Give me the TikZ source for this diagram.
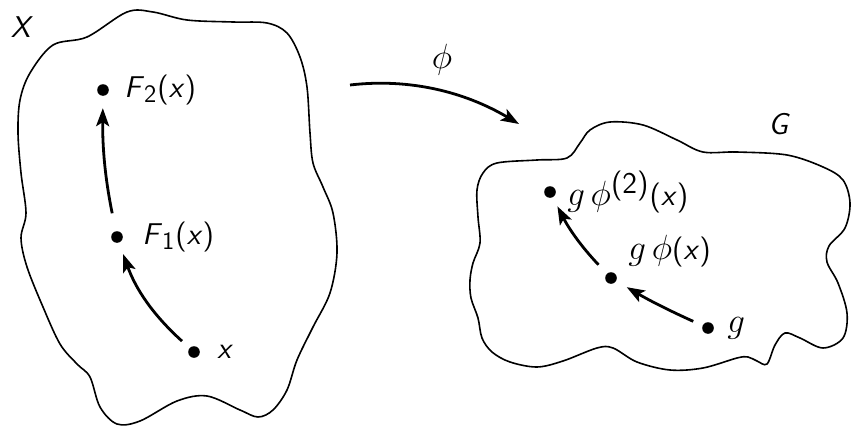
\RequirePackage{fix-cm}
\documentclass[tikz,border=0pt]{standalone}
\usepackage{tikz}
\usetikzlibrary{arrows.meta,positioning}
\DeclareMathSizes{15}{17.5}{12.5}{9}

\begin{document}
\begin{tikzpicture}[x=0.5pt,y=-0.5pt,
  every node/.style={font=\fontsize{15}{18}\selectfont\sffamily},
  pt/.style={circle,fill=black,inner sep=0pt,minimum size=5.8pt},
  arr/.style={line width=1.4pt,-{Stealth[length=9pt,width=6.5pt,inset=2pt]},shorten <=5pt,shorten >=6pt},
  blob/.style={line width=0.8pt}]
\useasboundingbox (0,0) rectangle (852,428);

% space X
\draw[blob] plot[smooth cycle,tension=0.55] coordinates {
  (53,45) (87,37) (127,12) (153,12) (187,20) (233,22) (267,23) (287,33)
  (300,57) (307,87) (310,133) (313,163) (323,187) (333,213) (337,253)
  (330,293) (313,327) (297,360) (287,390) (273,410) (258,417) (240,410)
  (207,396) (177,401) (140,421) (117,424) (100,407) (90,377) (77,364)
  (60,344) (43,307) (27,267) (21,238) (26,213)
  (21,173) (18,133) (20,100) (30,73)};
\node (Xl) at (22,27) {\textit{X}};

\node[pt] (x) at (194,352) {};
\node[pt] (f1) at (117,237) {};
\node[pt] (f2) at (103,90) {};
\node[right=5pt of x] (xl) {\textit{x}};
\node[right=6pt of f1] (f1l) {\textit{F}\textsubscript{1}(\textit{x})};
\node[right=4pt of f2] (f2l) {\textit{F}\textsubscript{2}(\textit{x})};
\draw[arr] (x) to[bend left=14] (f1);
\draw[arr,shorten <=9pt] (f1) to[bend left=6] (f2);

% map phi
\coordinate (phis) at (350,85);
\coordinate (phie) at (519,124);
\draw[arr,shorten <=0pt,shorten >=0pt] (phis) .. controls (410,78) and (465,92) .. (phie);
\node (phil) at (442,60) {$\phi$};

% group G
\draw[blob] plot[smooth cycle,tension=0.55] coordinates {
  (477,190) (483,173) (497,163) (537,160) (567,158) (580,143) (590,130)
  (610,122) (643,125) (677,140) (703,152) (737,152) (787,155) (823,167)
  (843,180) (850,203) (845,228) (829,246) (827,262) (838,283)
  (847,313) (843,338) (823,348) (800,338) (785,333) (775,345) (767,364)
  (757,361) (748,357) (737,358) (703,368) (670,370) (637,362) (613,348)
  (597,348) (563,361) (537,367) (510,362) (492,352) (482,338) (478,318)
  (471,298) (470,280) (473,263) (480,243) (478,217)};
\node (Gl) at (779,124) {\textit{G}};

\node[pt] (g) at (708,328) {};
\node[pt] (gp) at (611,278) {};
\node[pt] (gpp) at (550,192) {};
\node[right=3pt of g] (gl) {$g$};
\node[above right=0pt and 3pt of gp] (gpl) {$g\,\phi$(\textit{x})};
\node[right=2pt of gpp] (gppl) {$g\,\phi^{\textsf{(2)}}$(\textit{x})};
\draw[arr] (g) to[bend left=3] (gp);
\draw[arr,shorten <=6pt,shorten >=5pt] (gp) to[bend left=8] (gpp);
\end{tikzpicture}
\end{document}
